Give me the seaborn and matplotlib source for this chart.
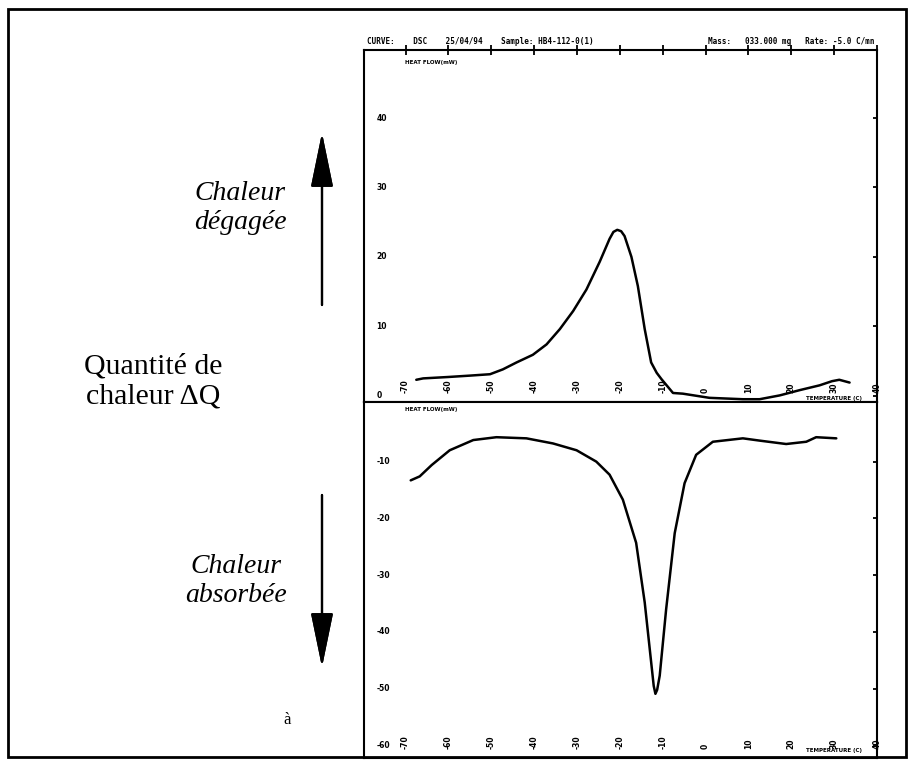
import matplotlib
matplotlib.use("Agg")
import matplotlib.pyplot as plt
import matplotlib.transforms as mtransforms
import seaborn as sns
from matplotlib.patches import Rectangle

# cooling run (top) : temperature (C) / heat flow (mW)
temp_cool = [-67.5, -65.9, -60.1, -55.0, -50.3, -47.3, -44.1, -40.3, -37.1, -34.0, -30.9,
             -27.8, -24.7, -22.4, -21.5, -20.6, -19.7, -18.9, -17.3, -15.8, -14.2, -12.7,
             -11.4, -10.3, -7.6, -5.3, 0.9, 8.7, 12.6, 17.3, 21.9, 26.6, 29.5, 31.2, 33.6]
flow_cool = [2.3, 2.5, 2.7, 2.9, 3.1, 3.8, 4.8, 5.9, 7.4, 9.6, 12.2,
             15.3, 19.3, 22.6, 23.6, 23.9, 23.7, 23.0, 20.0, 15.8, 9.6, 4.8,
             3.3, 2.4, 0.4, 0.3, -0.3, -0.5, -0.5, 0.05, 0.8, 1.5, 2.1, 2.3, 1.9]

# heating run (bottom)
temp_heat = [-68.8, -66.7, -63.9, -59.7, -54.2, -48.8, -41.8, -35.6, -30.1, -25.5, -22.4,
             -19.3, -16.2, -14.2, -12.7, -12.1, -11.7, -11.3, -10.7, -9.2, -7.2, -4.9,
             -2.2, 1.7, 8.7, 12.6, 18.8, 23.5, 25.8, 30.5]
flow_heat = [-13.3, -12.6, -10.6, -8.0, -6.2, -5.7, -5.9, -6.8, -8.0, -10.0, -12.3,
             -16.7, -24.3, -34.8, -45.3, -49.5, -50.9, -50.2, -47.7, -36.0, -22.6, -13.8,
             -8.8, -6.5, -5.9, -6.3, -6.9, -6.5, -5.7, -5.9]

temp_ticks = list(range(-70, 41, 10))
top_yticks = [0, 10, 20, 30, 40]
bottom_yticks = [-10, -20, -30, -40, -50, -60]

sns.set_style("white")
plt.rcParams['font.family'] = ['Liberation Serif', 'DejaVu Serif']
plt.rcParams['text.color'] = 'black'
plt.rcParams['xtick.color'] = 'black'
plt.rcParams['ytick.color'] = 'black'

fig = plt.figure(figsize=(9.15, 7.66), dpi=100)
W, H = 915, 766


def fx(px):
    return px / W


def fy(py):
    return 1 - py / H


ax1 = fig.add_axes([fx(364), fy(402), fx(877) - fx(364), fy(50) - fy(402)])
ax2 = fig.add_axes([fx(364), fy(758), fx(877) - fx(364), fy(402) - fy(758)])

sns.lineplot(x=temp_cool, y=flow_cool, ax=ax1, color="black", lw=1.8, sort=False, estimator=None)
sns.lineplot(x=temp_heat, y=flow_heat, ax=ax2, color="black", lw=1.8, sort=False, estimator=None)

tick_font = dict(fontsize=5.5, fontweight="bold", family="DejaVu Sans")
shift_left = mtransforms.ScaledTranslation(-3 / 72, 0, fig.dpi_scale_trans)

for ax, yt, ylim in [(ax1, top_yticks, (-0.9, 49.8)), (ax2, bottom_yticks, (-62.2, 0.5))]:
    ax.set_xlim(-79.7, 40)
    ax.set_ylim(*ylim)
    ax.set_xticks(temp_ticks)
    ax.set_xticklabels([str(t) for t in temp_ticks], rotation=90, va="bottom", **tick_font)
    for lab in ax.get_xticklabels():
        lab.set_transform(lab.get_transform() + shift_left)
    ax.set_yticks(yt)
    ax.set_yticklabels([str(v) for v in yt], ha="left", va="center", **tick_font)
    ax.set_xticks(range(-75, 40, 10), minor=True)
    ax.tick_params(axis="x", which="major", direction="inout", length=7, width=1.3, pad=-10)
    ax.tick_params(axis="x", which="minor", direction="inout", length=3, width=1)
    ax.tick_params(axis="y", direction="in", length=3, width=1.3, pad=-9, right=True)
    for s in ax.spines.values():
        s.set_linewidth(1.5)
        s.set_color("black")
    ax.set_xlabel("")
    ax.set_ylabel("")
    ax.text(0.08, 0.965 if ax is ax1 else 0.978, "HEAT FLOW(mW)", transform=ax.transAxes,
            fontsize=4, fontweight="bold", family="DejaVu Sans", va="center")
    ax.text(0.97, 0.011 if ax is ax1 else 0.022, "TEMPERATURE (C)", transform=ax.transAxes,
            fontsize=4, fontweight="bold", family="DejaVu Sans", ha="right", va="center")

ax1.tick_params(axis="x", top=True)
ax2.tick_params(axis="x", top=False)

# header line
hdr = dict(fontsize=5.5, fontweight="bold", family="DejaVu Sans Mono", va="center")
fig.text(fx(367), fy(42), "CURVE:    DSC    25/04/94    Sample: HB4-112-0(1)", **hdr)
fig.text(fx(875), fy(42), "Mass:   033.000 mg   Rate: -5.0 C/mn", ha="right", **hdr)

# outer frame
fig.add_artist(Rectangle((fx(8), fy(757)), fx(906) - fx(8), fy(9) - fy(757),
                         transform=fig.transFigure, fill=False, lw=2, ec="black"))

# left-hand annotations
fig.text(fx(240), fy(208), "Chaleur\ndégagée", ha="center", va="center",
         fontsize=20, style="italic", linespacing=1.25)
fig.text(fx(153), fy(382), "Quantité de\nchaleur ΔQ", ha="center", va="center",
         fontsize=21.5, linespacing=1.2)
fig.text(fx(236), fy(581), "Chaleur\nabsorbée", ha="center", va="center",
         fontsize=20, style="italic", linespacing=1.25)
fig.text(fx(287), fy(720), "à", fontsize=12, ha="center", va="center")

arrow = dict(arrowstyle="-|>,head_length=3.4,head_width=0.7", lw=1.6, color="black",
             shrinkA=0, shrinkB=0)
fig.add_artist(plt.annotate("", xy=(fx(322), fy(133)), xytext=(fx(322), fy(305)),
                            xycoords="figure fraction", arrowprops=arrow))
fig.add_artist(plt.annotate("", xy=(fx(322), fy(667)), xytext=(fx(322), fy(495)),
                            xycoords="figure fraction", arrowprops=arrow))

fig.savefig("out.png", dpi=100)
